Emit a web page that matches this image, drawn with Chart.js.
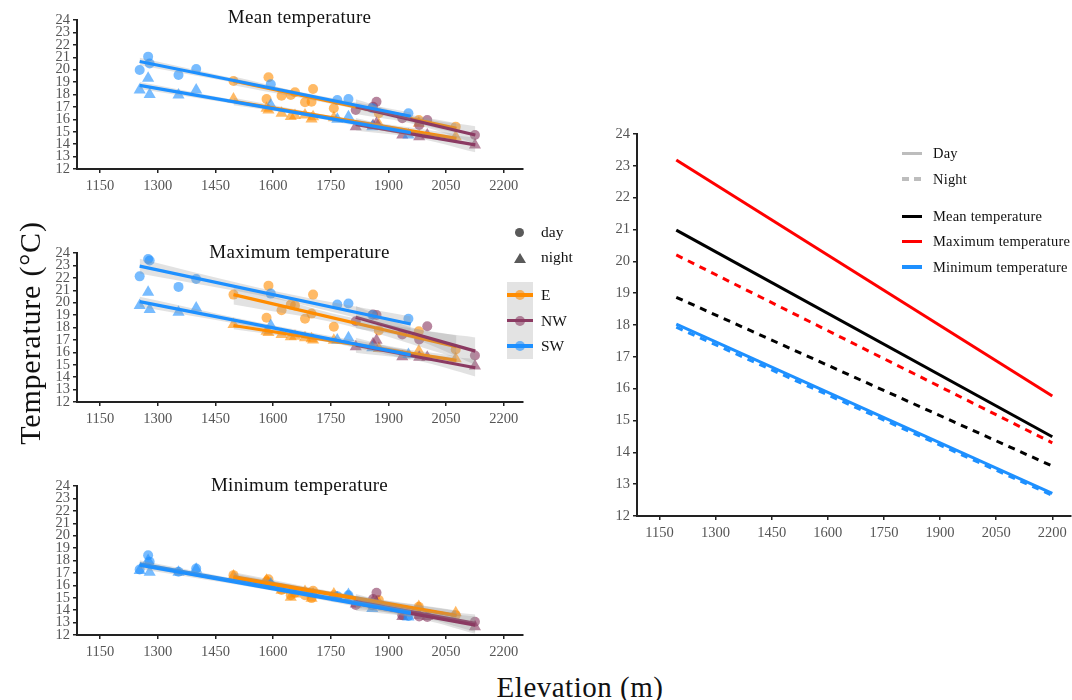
<!DOCTYPE html>
<html>
<head>
<meta charset="utf-8">
<script src="https://cdn.jsdelivr.net/npm/chart.js@4.4.1/dist/chart.umd.min.js"></script>
<style>
  html, body { margin: 0; padding: 0; background: #fff; }
  #wrap { position: relative; width: 1072px; height: 700px; overflow: hidden;
          font-family: 'Liberation Serif', 'Times New Roman', serif; color: #111; }
  canvas { position: absolute; }
  .t { position: absolute; white-space: nowrap; }
  .ptitle { left: 0; width: 599px; text-align: center; font-size: 19px; line-height: 19px; letter-spacing: 0.3px; }
  .leg { font-size: 14.5px; line-height: 16px; letter-spacing: 0.2px; }
  .leg2 { font-size: 15.5px; line-height: 18px; }
  .key { position: absolute; }
</style>
</head>
<body>
<div id="wrap">
  <canvas id="cMean" style="left:0;top:0" width="530" height="200"></canvas>
  <canvas id="cMax"  style="left:0;top:233px" width="530" height="200"></canvas>
  <canvas id="cMin"  style="left:0;top:466px" width="530" height="200"></canvas>
  <canvas id="cLapse" style="left:590px;top:120px" width="482" height="430"></canvas>

  <div class="t ptitle" style="top:7px">Mean temperature</div>
  <div class="t ptitle" style="top:242px">Maximum temperature</div>
  <div class="t ptitle" style="top:475px">Minimum temperature</div>

  <div class="t" style="left:-120px;top:315px;width:300px;height:36px;line-height:36px;font-size:30px;letter-spacing:0.8px;text-align:center;transform:rotate(-90deg);">Temperature (°C)</div>
  <div class="t" style="left:430px;top:671px;width:300px;line-height:32px;font-size:29px;letter-spacing:0.5px;text-align:center;">Elevation (m)</div>

  <!-- shape legend -->
  <div class="key" style="left:514.8px;top:227.8px;width:9px;height:9px;border-radius:50%;background:#5a5a5a;"></div>
  <div class="t leg2" style="left:541px;top:223px">day</div>
  <div class="key" style="left:513.5px;top:252.5px;width:0;height:0;border-left:6px solid transparent;border-right:6px solid transparent;border-bottom:10px solid #5a5a5a;"></div>
  <div class="t leg2" style="left:541px;top:248px">night</div>

  <!-- aspect legend -->
  <div class="key" style="left:507px;top:282px;width:26px;height:77px;background:#e3e3e3;"></div>
  <div class="key" style="left:507px;top:293.3px;width:26px;height:3.4px;background:#FF8C00;"></div>
  <div class="key" style="left:515px;top:290px;width:10px;height:10px;border-radius:50%;background:rgba(255,140,0,0.6);"></div>
  <div class="t leg2" style="left:541px;top:286px">E</div>
  <div class="key" style="left:507px;top:318.8px;width:26px;height:3.4px;background:#8B3A62;"></div>
  <div class="key" style="left:515px;top:315.5px;width:10px;height:10px;border-radius:50%;background:rgba(139,58,98,0.6);"></div>
  <div class="t leg2" style="left:541px;top:311.5px">NW</div>
  <div class="key" style="left:507px;top:344.3px;width:26px;height:3.4px;background:#1E90FF;"></div>
  <div class="key" style="left:515px;top:341px;width:10px;height:10px;border-radius:50%;background:rgba(30,144,255,0.6);"></div>
  <div class="t leg2" style="left:541px;top:337px">SW</div>

  <!-- line legend -->
  <div class="key" style="left:902px;top:151.5px;width:20px;height:3.5px;background:#bdbdbd;"></div>
  <div class="t leg" style="left:933px;top:145px">Day</div>
  <div class="key" style="left:902px;top:177px;width:20px;height:3.5px;background:repeating-linear-gradient(90deg,#bdbdbd 0 7px,transparent 7px 12px);"></div>
  <div class="t leg" style="left:933px;top:170.5px">Night</div>
  <div class="key" style="left:902px;top:214.5px;width:20px;height:3.5px;background:#000;"></div>
  <div class="t leg" style="left:933px;top:208px">Mean temperature</div>
  <div class="key" style="left:902px;top:239.5px;width:20px;height:3.5px;background:#ff0000;"></div>
  <div class="t leg" style="left:933px;top:233px">Maximum temperature</div>
  <div class="key" style="left:902px;top:265px;width:20px;height:3.5px;background:#1E90FF;"></div>
  <div class="t leg" style="left:933px;top:258.5px">Minimum temperature</div>
</div>

<script>
// Axis ticks
const elevTicks = [1150, 1300, 1450, 1600, 1750, 1900, 2050, 2200];
const tempTicks = [12, 13, 14, 15, 16, 17, 18, 19, 20, 21, 22, 23, 24];

// Logger elevations (m) by slope aspect
const elevE  = [1497, 1583, 1588, 1622, 1646, 1657, 1683, 1700, 1704, 1758, 1875, 1979, 2075];
const elevNW = [1815, 1860, 1869, 1936, 1980, 2001, 2125];
const elevSW = [1253, 1275, 1279, 1354, 1400, 1594, 1767, 1796, 1858, 1952];

// Mean temperature (°C)
const meanDayE    = [19.09, 17.64, 19.39, 17.90, 17.96, 18.18, 17.37, 17.42, 18.44, 16.89, 16.50, 15.95, 15.41];
const meanNightE  = [17.64, 16.89, 16.75, 16.49, 16.22, 16.30, 16.35, 16.03, 16.20, 16.13, 15.60, 15.68, 14.60];
const meanDayNW   = [16.75, 17.02, 17.42, 16.09, 15.55, 15.95, 14.74];
const meanNightNW = [15.41, 15.50, 15.68, 14.74, 14.60, 14.74, 13.94];
const meanDaySW   = [19.97, 21.05, 20.50, 19.57, 20.05, 18.82, 17.56, 17.64, 16.90, 16.49];
const meanNightSW = [18.36, 19.30, 18.00, 17.96, 18.36, 17.16, 16.00, 16.20, 15.40, 14.74];

// Maximum temperature (°C)
const maxDayE    = [20.65, 18.78, 21.37, 19.39, 19.85, 19.77, 18.70, 19.12, 20.65, 18.06, 17.76, 17.70, 16.23];
const maxNightE  = [18.24, 17.70, 17.60, 17.44, 17.25, 17.30, 17.17, 17.09, 17.00, 16.98, 16.30, 16.10, 15.49];
const maxDayNW   = [18.51, 19.04, 19.00, 17.44, 17.04, 18.10, 15.75];
const maxNightNW = [16.45, 16.70, 16.98, 15.65, 15.60, 15.60, 14.89];
const maxDaySW   = [22.12, 23.52, 23.40, 21.27, 21.91, 20.73, 19.85, 19.93, 19.00, 18.70];
const maxNightSW = [19.77, 20.84, 19.45, 19.23, 19.58, 18.16, 17.00, 17.17, 16.37, 15.83];

// Minimum temperature (°C)
const minDayE    = [16.82, 16.30, 16.48, 15.62, 15.21, 15.40, 15.20, 14.97, 15.56, 15.20, 14.81, 14.27, 13.60];
const minNightE  = [16.75, 16.40, 16.20, 15.60, 15.05, 15.30, 15.50, 14.95, 15.30, 15.30, 14.60, 14.30, 13.79];
const minDayNW   = [14.41, 14.90, 15.40, 13.60, 13.50, 13.45, 13.07];
const minNightNW = [14.50, 14.70, 14.60, 13.50, 13.60, 13.50, 12.67];
const minDaySW   = [17.28, 18.43, 17.90, 17.09, 17.36, 16.02, 15.13, 15.20, 14.40, 13.53];
const minNightSW = [17.20, 18.00, 17.06, 17.06, 17.30, 16.10, 15.00, 15.26, 14.14, 13.45];

// Linear fits: elevation span and fitted temperature at both ends
const fitRangeE  = [1497, 2077];
const fitRangeNW = [1815, 2126];
const fitRangeSW = [1253, 1958];

const fitMeanDayE  = [19.10, 15.28], fitMeanNightE  = [17.44, 14.47];
const fitMeanDayNW = [17.02, 14.74], fitMeanNightNW = [15.60, 13.94];
const fitMeanDaySW = [20.66, 16.25], fitMeanNightSW = [18.73, 14.93];

const fitMaxDayE  = [20.65, 16.45], fitMaxNightE  = [18.16, 15.35];
const fitMaxDayNW = [18.83, 16.10], fitMaxNightNW = [16.57, 14.76];
const fitMaxDaySW = [22.94, 18.28], fitMaxNightSW = [20.08, 15.79];

const fitMinDayE  = [16.70, 13.58], fitMinNightE  = [16.60, 13.55];
const fitMinDayNW = [14.70, 12.95], fitMinNightNW = [14.55, 12.80];
const fitMinDaySW = [17.73, 13.82], fitMinNightSW = [17.62, 13.74];

// Confidence band half-width (°C) at start, middle and end of each fit
const seMeanDayE  = [0.35, 0.18, 0.40], seMeanNightE  = [0.30, 0.15, 0.35];
const seMeanDayNW = [0.60, 0.30, 0.70], seMeanNightNW = [0.50, 0.25, 0.60];
const seMeanDaySW = [0.30, 0.15, 0.30], seMeanNightSW = [0.28, 0.14, 0.28];

const seMaxDayE  = [0.80, 0.35, 0.90], seMaxNightE  = [0.30, 0.15, 0.35];
const seMaxDayNW = [0.90, 0.45, 1.10], seMaxNightNW = [0.60, 0.30, 0.70];
const seMaxDaySW = [0.60, 0.30, 0.60], seMaxNightSW = [0.40, 0.20, 0.40];

const seMinDayE  = [0.35, 0.18, 0.40], seMinNightE  = [0.35, 0.18, 0.40];
const seMinDayNW = [0.60, 0.30, 0.70], seMinNightNW = [0.60, 0.30, 0.70];
const seMinDaySW = [0.30, 0.15, 0.30], seMinNightSW = [0.30, 0.15, 0.30];

// Lapse-rate lines (summary panel)
const lapseElev     = [1195, 2200];
const meanDayLine   = [20.98, 14.49];
const meanNightLine = [18.87, 13.57];
const maxDayLine    = [23.18, 15.77];
const maxNightLine  = [20.20, 14.30];
const minDayLine    = [18.03, 12.71];
const minNightLine  = [17.93, 12.65];

// ---- styling ----
const FONT = "'Liberation Serif', 'Times New Roman', serif";
const AXIS = '#222';
const TICK_TEXT = '#555';
const lineColor  = { E: '#FF8C00', NW: '#8B3A62', SW: '#1E90FF' };
const pointColor = { E: 'rgba(255,140,0,0.6)', NW: 'rgba(139,58,98,0.62)', SW: 'rgba(30,144,255,0.6)' };
const BAND = 'rgba(150,150,150,0.28)';

const elevByAspect = { E: elevE, NW: elevNW, SW: elevSW };
const rangeByAspect = { E: fitRangeE, NW: fitRangeNW, SW: fitRangeSW };

const panels = {
  cMean: {
    temps: { E: [meanDayE, meanNightE], NW: [meanDayNW, meanNightNW], SW: [meanDaySW, meanNightSW] },
    fits:  { E: [fitMeanDayE, fitMeanNightE], NW: [fitMeanDayNW, fitMeanNightNW], SW: [fitMeanDaySW, fitMeanNightSW] },
    se:    { E: [seMeanDayE, seMeanNightE], NW: [seMeanDayNW, seMeanNightNW], SW: [seMeanDaySW, seMeanNightSW] }
  },
  cMax: {
    temps: { E: [maxDayE, maxNightE], NW: [maxDayNW, maxNightNW], SW: [maxDaySW, maxNightSW] },
    fits:  { E: [fitMaxDayE, fitMaxNightE], NW: [fitMaxDayNW, fitMaxNightNW], SW: [fitMaxDaySW, fitMaxNightSW] },
    se:    { E: [seMaxDayE, seMaxNightE], NW: [seMaxDayNW, seMaxNightNW], SW: [seMaxDaySW, seMaxNightSW] }
  },
  cMin: {
    temps: { E: [minDayE, minNightE], NW: [minDayNW, minNightNW], SW: [minDaySW, minNightSW] },
    fits:  { E: [fitMinDayE, fitMinNightE], NW: [fitMinDayNW, fitMinNightNW], SW: [fitMinDaySW, fitMinNightSW] },
    se:    { E: [seMinDayE, seMinNightE], NW: [seMinDayNW, seMinNightNW], SW: [seMinDaySW, seMinNightSW] }
  }
};

const pts = (xs, ys) => xs.map((x, i) => ({ x, y: ys[i] }));

function axes(yWidth, xHeight) {
  const tickFont = { family: FONT, size: 14.5 };
  const border = { display: true, color: AXIS, width: 2 };
  const grid = { display: true, drawOnChartArea: false, drawTicks: true, tickLength: 4, color: AXIS, lineWidth: 1.5 };
  return {
    x: {
      type: 'linear', min: 1090, max: 2250, border, grid,
      ticks: { color: TICK_TEXT, font: tickFont, autoSkip: false, maxRotation: 0, padding: 4,
               callback: v => String(v) },
      afterBuildTicks: s => { s.ticks = elevTicks.map(v => ({ value: v })); },
      afterFit: s => { s.height = xHeight; }
    },
    y: {
      type: 'linear', min: 12, max: 24, border, grid,
      ticks: { color: TICK_TEXT, font: tickFont, autoSkip: false, padding: 3,
               callback: v => String(v) },
      afterBuildTicks: s => { s.ticks = tempTicks.map(v => ({ value: v })); },
      afterFit: s => { s.width = yWidth; }
    }
  };
}

const baseOpts = {
  responsive: false,
  animation: false,
  events: [],
  plugins: { legend: { display: false }, tooltip: { enabled: false } }
};

// ---- three scatter panels ----
Object.keys(panels).forEach(id => {
  const p = panels[id];
  const ds = [];
  let order = 1000;
  // points first (bottom layer)
  ['E', 'NW', 'SW'].forEach(a => {
    [0, 1].forEach(t => {
      ds.push({
        type: 'scatter',
        data: pts(elevByAspect[a], p.temps[a][t]),
        pointStyle: t ? 'triangle' : 'circle',
        pointRadius: t ? 7 : 5,
        backgroundColor: pointColor[a],
        borderWidth: 0,
        order: order--
      });
    });
  });
  // fitted lines with confidence bands
  ['E', 'NW', 'SW'].forEach(a => {
    [0, 1].forEach(t => {
      const [x0, x1] = rangeByAspect[a];
      const [y0, y1] = p.fits[a][t];
      const [h0, hm, h1] = p.se[a][t];
      const xm = (x0 + x1) / 2, ym = (y0 + y1) / 2;
      ds.push({
        type: 'line', data: [{ x: x0, y: y0 + h0 }, { x: xm, y: ym + hm }, { x: x1, y: y1 + h1 }],
        borderWidth: 0, pointRadius: 0, fill: '+1', backgroundColor: BAND, tension: 0.35, order: order--
      });
      ds.push({
        type: 'line', data: [{ x: x0, y: y0 - h0 }, { x: xm, y: ym - hm }, { x: x1, y: y1 - h1 }],
        borderWidth: 0, pointRadius: 0, fill: false, tension: 0.35, order: order--
      });
      ds.push({
        type: 'line', data: [{ x: x0, y: y0 }, { x: x1, y: y1 }],
        borderColor: lineColor[a], borderWidth: 3.2, borderCapStyle: 'butt',
        pointRadius: 0, fill: false, order: order--
      });
    });
  });

  new Chart(document.getElementById(id), {
    type: 'scatter',
    data: { datasets: ds },
    options: Object.assign({}, baseOpts, {
      layout: { padding: { left: 37, right: 7, top: 20, bottom: 5 } },
      scales: axes(40, 26)
    })
  });
});

// ---- lapse-rate summary panel ----
const lapseSeries = [
  { y: minNightLine, color: '#1E90FF', dash: [7, 6] },
  { y: minDayLine,   color: '#1E90FF', dash: [] },
  { y: meanNightLine, color: '#000000', dash: [7, 6] },
  { y: meanDayLine,   color: '#000000', dash: [] },
  { y: maxNightLine,  color: '#ff0000', dash: [7, 6] },
  { y: maxDayLine,    color: '#ff0000', dash: [] }
];

new Chart(document.getElementById('cLapse'), {
  type: 'scatter',
  data: {
    datasets: lapseSeries.map((s, i) => ({
      type: 'line',
      data: pts(lapseElev, s.y),
      borderColor: s.color,
      borderWidth: 3,
      borderDash: s.dash,
      borderCapStyle: 'butt',
      pointRadius: 0,
      fill: false,
      order: 100 - i
    }))
  },
  options: Object.assign({}, baseOpts, {
    layout: { padding: { left: 7, right: 1, top: 14, bottom: 8 } },
    scales: axes(40, 26)
  })
});
</script>
</body>
</html>
